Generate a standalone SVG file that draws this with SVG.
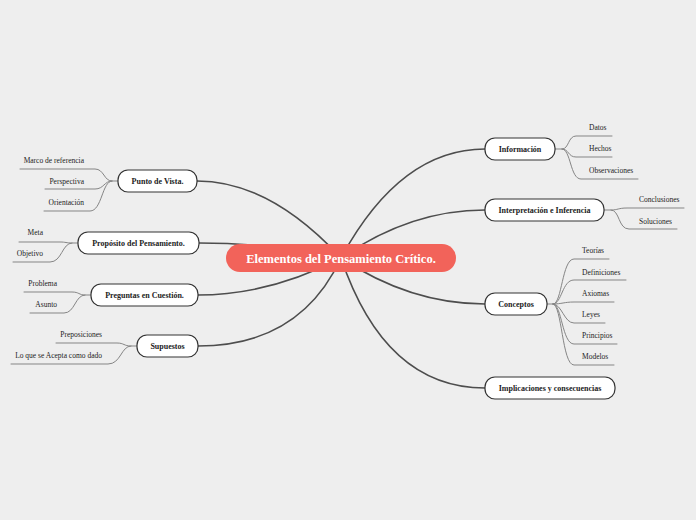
<svg xmlns="http://www.w3.org/2000/svg" width="696" height="520" viewBox="0 0 696 520">
<style>
.bg{fill:#eeeeee}
.main{fill:none;stroke:#4d4d4d;stroke-width:1.6;stroke-linecap:round}
.sub{fill:none;stroke:#858585;stroke-width:1;stroke-linecap:round}
.node rect{fill:#ffffff;stroke:#333333;stroke-width:1.2}
.node text{font-family:"Liberation Serif",serif;font-weight:bold;font-size:8px;fill:#222222;text-anchor:middle}
.leaf{font-family:"Liberation Serif",serif;font-size:7.5px;fill:#222222}
.le{text-anchor:end}
.center rect{fill:#f2635a}
.center text{font-family:"Liberation Serif",serif;font-weight:bold;font-size:12.5px;fill:#ffffff;text-anchor:middle}
</style>
<rect class="bg" x="0" y="0" width="696" height="520"/>
<g id="connectors">
  <path class="main" d="M341,258 Q270,181 197,181"/>
  <path class="main" d="M341,258 Q270,243 199,243"/>
  <path class="main" d="M341,258 Q270,295 198,295"/>
  <path class="main" d="M341,258 Q300,346 198,346"/>
  <path class="main" d="M341,258 Q400,149 485,149"/>
  <path class="main" d="M341,258 Q410,210 485,210"/>
  <path class="main" d="M341,258 Q410,304 485,304"/>
  <path class="main" d="M341,258 Q385,388 485,388"/>
  <path class="sub" d="M118,181 L112,181 C104,181 104,169 95,169 L20,169"/>
  <path class="sub" d="M112,181 C104,181 104,189 95,189 L45,189"/>
  <path class="sub" d="M112,181 C102,181 102,211 90,211 L44,211"/>
  <path class="sub" d="M78,243 L72,243 C66,243 66,242 60,242 L19,242"/>
  <path class="sub" d="M72,243 C62,243 62,262 50,262 L13,262"/>
  <path class="sub" d="M91,295 L85,295 C79,295 79,292 72,292 L24,292"/>
  <path class="sub" d="M85,295 C75,295 75,313 64,313 L30,313"/>
  <path class="sub" d="M137,346 L131,346 C124,346 124,343 117,343 L56,343"/>
  <path class="sub" d="M131,346 C121,346 121,364 108,364 L11,364"/>
  <path class="sub" d="M555,149 L562,149 C569,149 568,136 576,136 L612,136"/>
  <path class="sub" d="M562,149 C569,149 568,157 576,157 L612,157"/>
  <path class="sub" d="M562,149 C571,149 570,179 581,179 L638,179"/>
  <path class="sub" d="M604,210 L611,210 C618,210 618,208 627,208 L684,208"/>
  <path class="sub" d="M611,210 C620,210 618,229 629,229 L677,229"/>
  <path class="sub" d="M547,304 L553,304 C562,304 562,259 574,259 L609,259"/>
  <path class="sub" d="M553,304 C562,304 562,280 574,280 L626,280"/>
  <path class="sub" d="M553,304 C562,304 564,302 574,302 L614,302"/>
  <path class="sub" d="M553,304 C562,304 564,323 574,323 L605,323"/>
  <path class="sub" d="M553,304 C562,304 562,344 574,344 L617,344"/>
  <path class="sub" d="M553,304 C562,304 562,365 574,365 L614,365"/>
</g>
<g id="center" class="center">
  <rect x="226" y="244" width="230" height="28" rx="14"/>
  <text x="341" y="262.5">Elementos del Pensamiento Crítico.</text>
</g>
<g id="punto-de-vista" class="node">
  <rect x="118" y="170" width="79" height="22" rx="10"/>
  <text x="157.5" y="184">Punto de Vista.</text>
</g>
<g id="proposito" class="node">
  <rect x="78" y="232" width="121" height="22" rx="10"/>
  <text x="138.5" y="246">Propósito del Pensamiento.</text>
</g>
<g id="preguntas" class="node">
  <rect x="91" y="284" width="107" height="22" rx="10"/>
  <text x="144.5" y="298">Preguntas en Cuestión.</text>
</g>
<g id="supuestos" class="node">
  <rect x="137" y="335" width="61" height="22" rx="10"/>
  <text x="167.5" y="349">Supuestos</text>
</g>
<g id="informacion" class="node">
  <rect x="485" y="138" width="70" height="22" rx="10"/>
  <text x="520" y="152">Información</text>
</g>
<g id="interpretacion" class="node">
  <rect x="485" y="199" width="119" height="22" rx="10"/>
  <text x="544.5" y="213">Interpretación e Inferencia</text>
</g>
<g id="conceptos" class="node">
  <rect x="485" y="293" width="62" height="22" rx="10"/>
  <text x="516" y="307">Conceptos</text>
</g>
<g id="implicaciones" class="node">
  <rect x="485" y="377" width="130" height="22" rx="10"/>
  <text x="550" y="391">Implicaciones y consecuencias</text>
</g>
<g id="leaves">
  <text class="leaf le" x="84" y="163">Marco de referencia</text>
  <text class="leaf le" x="84" y="184">Perspectiva</text>
  <text class="leaf le" x="84" y="205">Orientación</text>
  <text class="leaf le" x="43" y="235">Meta</text>
  <text class="leaf le" x="43" y="256">Objetivo</text>
  <text class="leaf le" x="57" y="286">Problema</text>
  <text class="leaf le" x="57" y="307">Asunto</text>
  <text class="leaf le" x="102" y="337">Preposiciones</text>
  <text class="leaf le" x="102" y="358">Lo que se Acepta como dado</text>
  <text class="leaf" x="589" y="130">Datos</text>
  <text class="leaf" x="589" y="151">Hechos</text>
  <text class="leaf" x="589" y="173">Observaciones</text>
  <text class="leaf" x="639" y="202">Conclusiones</text>
  <text class="leaf" x="639" y="224">Soluciones</text>
  <text class="leaf" x="582" y="253">Teorías</text>
  <text class="leaf" x="582" y="275">Definiciones</text>
  <text class="leaf" x="582" y="296">Axiomas</text>
  <text class="leaf" x="582" y="317">Leyes</text>
  <text class="leaf" x="582" y="338">Principios</text>
  <text class="leaf" x="582" y="359">Modelos</text>
</g>
</svg>
